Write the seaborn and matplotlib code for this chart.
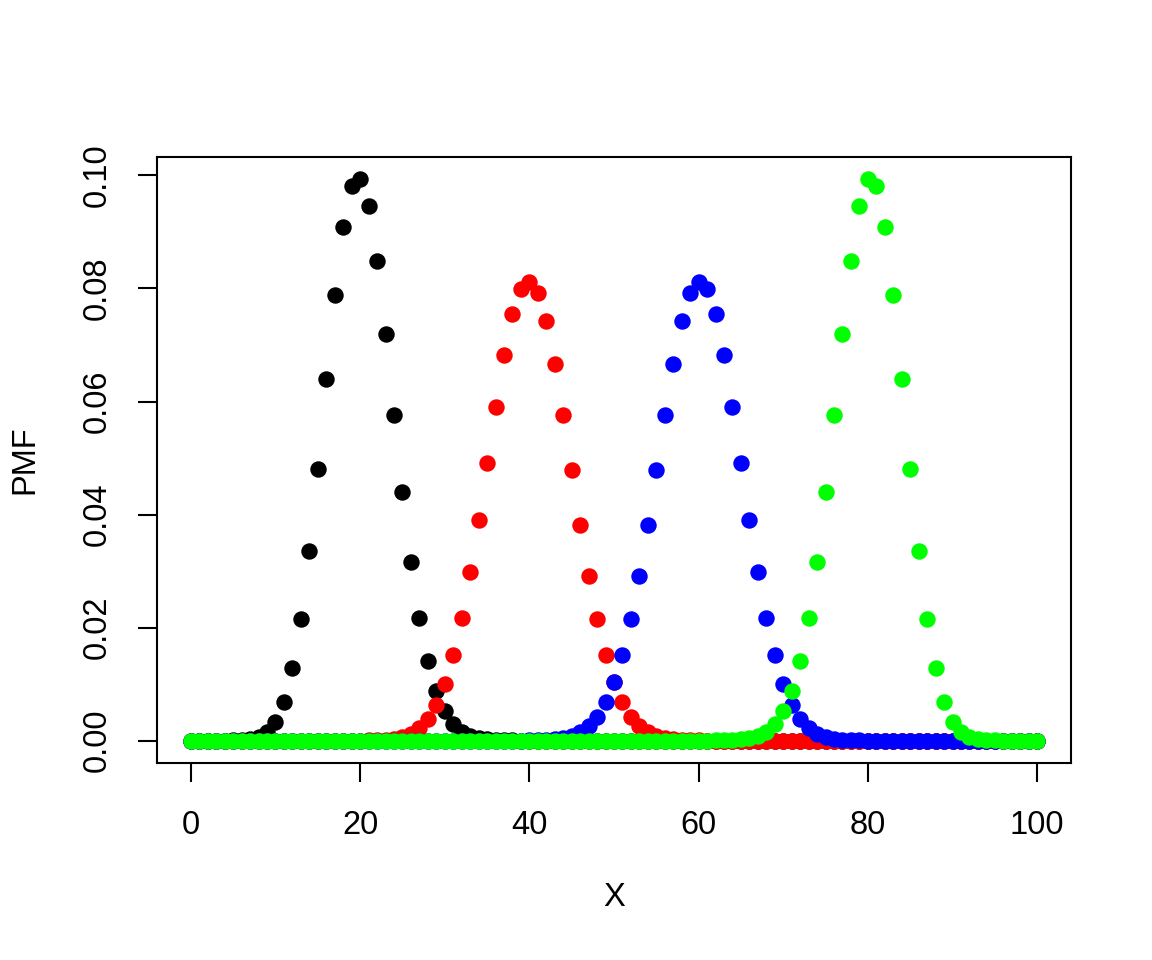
import matplotlib
matplotlib.use("Agg")
import matplotlib.pyplot as plt
import seaborn as sns
import pandas as pd

x_vals = list(range(0, 101))

pmf_black = ([0.0] * 5 + [
    0.00002, 0.00006, 0.00020, 0.00058, 0.00148, 0.00337, 0.00690, 0.01280, 0.02160, 0.03360,
    0.04810, 0.06390, 0.07890, 0.09090, 0.09810, 0.09930, 0.09460, 0.08490, 0.07200, 0.05770,
    0.04390, 0.03160, 0.02170, 0.01410, 0.00877, 0.00519, 0.00293, 0.00158, 0.00081, 0.00040,
    0.00019, 0.00009, 0.00004, 0.00002, 0.00001] + [0.0] * 61)

pmf_red = ([0.0] * 20 + [
    0.00001, 0.00003, 0.00006, 0.00014, 0.00031, 0.00063, 0.00120, 0.00220, 0.00383, 0.00634,
    0.01000, 0.01510, 0.02170, 0.02980, 0.03910, 0.04910, 0.05910, 0.06820, 0.07540, 0.07990,
    0.08120, 0.07920, 0.07420, 0.06670, 0.05760, 0.04780, 0.03810, 0.02920, 0.02150, 0.01520,
    0.01030, 0.00675, 0.00424, 0.00256, 0.00149, 0.00083, 0.00045, 0.00023, 0.00011, 0.00005,
    0.00002, 0.00001] + [0.0] * 39)

pmf_blue = ([0.0] * 39 + [
    0.00001, 0.00002, 0.00005, 0.00011, 0.00023, 0.00045, 0.00083, 0.00149, 0.00256, 0.00424,
    0.00675, 0.01030, 0.01520, 0.02150, 0.02920, 0.03810, 0.04780, 0.05760, 0.06670, 0.07420,
    0.07920, 0.08120, 0.07990, 0.07540, 0.06820, 0.05910, 0.04910, 0.03910, 0.02980, 0.02170,
    0.01510, 0.01000, 0.00634, 0.00383, 0.00220, 0.00120, 0.00063, 0.00031, 0.00014, 0.00006,
    0.00003, 0.00001] + [0.0] * 20)

pmf_green = ([0.0] * 61 + [
    0.00001, 0.00002, 0.00004, 0.00009, 0.00019, 0.00040, 0.00081, 0.00158, 0.00293, 0.00519,
    0.00877, 0.01410, 0.02170, 0.03160, 0.04390, 0.05770, 0.07200, 0.08490, 0.09460, 0.09930,
    0.09810, 0.09090, 0.07890, 0.06390, 0.04810, 0.03360, 0.02160, 0.01280, 0.00690, 0.00337,
    0.00148, 0.00058, 0.00020, 0.00006, 0.00002] + [0.0] * 5)

series = [("black", pmf_black), ("#FF0000", pmf_red), ("#0000FF", pmf_blue), ("#00FF00", pmf_green)]

x_ticks = [0, 20, 40, 60, 80, 100]
y_ticks = [0.00, 0.02, 0.04, 0.06, 0.08, 0.10]

sns.set_theme(style="white")
plt.rcParams['font.family'] = ['Liberation Sans', 'DejaVu Sans']

fig = plt.figure(figsize=(11.52, 9.6), dpi=100)
ax = fig.add_axes([157 / 1152, 1 - 763 / 960, (1071 - 157) / 1152, (763 - 157) / 960])

for color, vals in series:
    df = pd.DataFrame({"X": x_vals, "PMF": vals})
    sns.scatterplot(data=df, x="X", y="PMF", color=color, s=140, linewidth=0,
                    ax=ax, legend=False, zorder=3)

ax.set_xlim(-4, 104)
ax.set_ylim(-0.00397, 0.10327)
ax.set_xticks(x_ticks)
ax.set_xticklabels([str(t) for t in x_ticks])
ax.set_yticks(y_ticks)
ax.set_yticklabels([f"{t:.2f}" for t in y_ticks], rotation=90, va="center")

for sp in ax.spines.values():
    sp.set_visible(True)
    sp.set_color("black")
    sp.set_linewidth(1.5)

ax.tick_params(axis="both", direction="out", length=13.7, width=1.5, color="black",
               labelsize=23.5, labelcolor="black", bottom=True, left=True)
ax.tick_params(axis="x", pad=20)
ax.tick_params(axis="y", pad=18)
ax.grid(False)

ax.set_xlabel("X", fontsize=23.5, color="black", labelpad=30)
ax.set_ylabel("PMF", fontsize=23.5, color="black", labelpad=30)

fig.savefig("out.png", dpi=100, facecolor="white")
